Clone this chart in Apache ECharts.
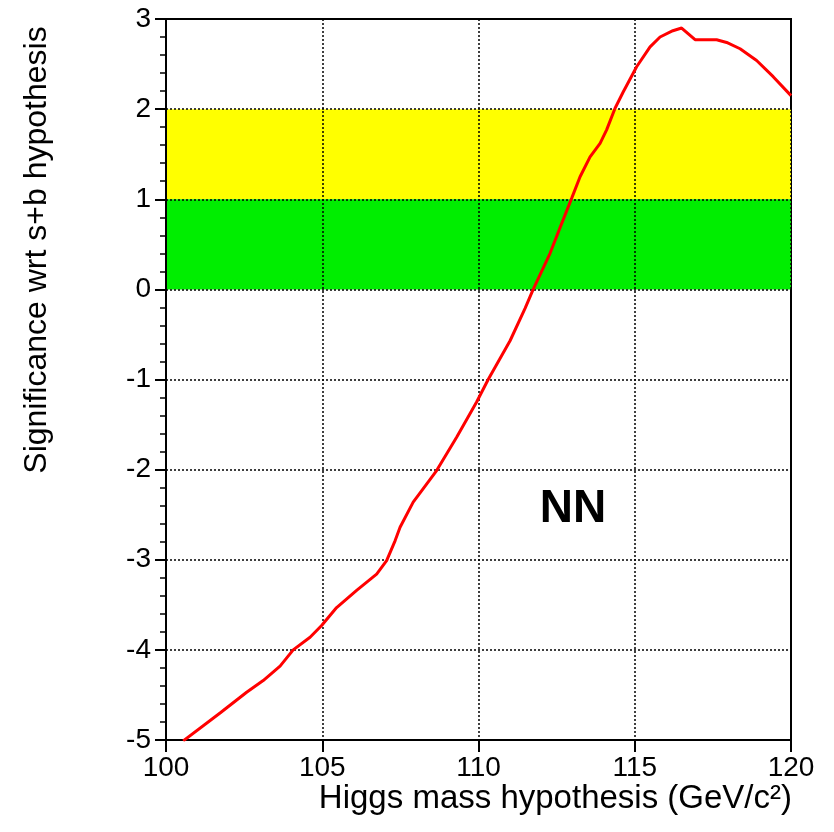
<!DOCTYPE html>
<html>
<head>
<meta charset="utf-8">
<script src="https://cdn.jsdelivr.net/npm/echarts@6/dist/echarts.min.js"></script>
<style>html,body{margin:0;padding:0;background:#fff}#c{width:834px;height:832px}</style>
</head>
<body>
<div id="c"></div>
<script>
const massValues = [100.55, 101.73, 102.58, 103.11, 103.65, 104.07, 104.61, 104.98, 105.46, 106.1, 106.74, 107.06, 107.33, 107.49, 107.91, 108.66, 109.30, 109.94, 110.31, 111.01, 111.49, 111.75, 112.29, 112.66, 112.98, 113.25, 113.57, 113.89, 114.1, 114.37, 114.63, 115.06, 115.49, 115.81, 116.22, 116.5, 116.93, 117.62, 117.94, 118.37, 118.9, 119.43, 120.0];
const significanceValues = [-5.01, -4.70, -4.47, -4.34, -4.18, -4.00, -3.86, -3.73, -3.53, -3.34, -3.16, -3.01, -2.79, -2.64, -2.36, -2.01, -1.64, -1.25, -1.0, -0.57, -0.21, 0.0, 0.40, 0.73, 1.01, 1.25, 1.47, 1.62, 1.77, 2.01, 2.19, 2.47, 2.69, 2.80, 2.87, 2.90, 2.77, 2.77, 2.74, 2.67, 2.54, 2.36, 2.15];
const bandGreen = [0, 1];
const bandYellow = [1, 2];
const xTitle = 'Higgs mass hypothesis (GeV/c²)';
const yTitle = 'Significance wrt s+b hypothesis';
const annotation = 'NN';

const FONT = 'Liberation Sans, Arial, Helvetica, sans-serif';
const chart = echarts.init(document.getElementById('c'), null, {renderer: 'canvas'});
const lineData = massValues.map((m, i) => [m, significanceValues[i]]);

chart.setOption({
  animation: false,
  backgroundColor: '#fff',
  grid: {left: 166, top: 19, right: 43, bottom: 92, show: true, borderColor: '#000', borderWidth: 2, backgroundColor: 'transparent'},
  xAxis: {
    type: 'value', min: 100, max: 120, interval: 5, z: 2,
    axisLine: {show: true, onZero: false, lineStyle: {color: '#000', width: 2}},
    axisTick: {show: true, length: 12, lineStyle: {color: '#000', width: 2}},
    axisLabel: {color: '#000', fontSize: 28, fontFamily: FONT, margin: 14},
    splitLine: {show: true, lineStyle: {color: '#000', width: 1.5, type: [2, 2]}}
  },
  yAxis: {
    type: 'value', min: -5, max: 3, interval: 1, z: 2,
    axisLine: {show: true, onZero: false, lineStyle: {color: '#000', width: 2}},
    axisTick: {show: true, length: 11, lineStyle: {color: '#000', width: 2}},
    minorTick: {show: true, splitNumber: 5, length: 6, lineStyle: {color: '#000', width: 1.5}},
    axisLabel: {color: '#000', fontSize: 28, fontFamily: FONT, margin: 15},
    splitLine: {show: true, lineStyle: {color: '#000', width: 1.5, type: [2, 2]}}
  },
  series: [
    {
      type: 'line', data: [], z: 1, silent: true,
      markArea: {
        silent: true,
        data: [
          [{yAxis: bandYellow[0], itemStyle: {color: '#ffff00', opacity: 1}}, {yAxis: bandYellow[1]}],
          [{yAxis: bandGreen[0], itemStyle: {color: '#00ee00', opacity: 1}}, {yAxis: bandGreen[1]}]
        ]
      }
    },
    {
      type: 'line', data: lineData, z: 3, showSymbol: false, symbol: 'none', smooth: false,
      lineStyle: {color: '#ff0000', width: 3}, clip: true
    }
  ],
  graphic: [
    {type: 'text', x: 37, y: 250, rotation: Math.PI / 2, z: 10,
      style: {text: yTitle, fontSize: 32, fontFamily: FONT, fill: '#000', align: 'center', verticalAlign: 'middle'}},
    {type: 'text', x: 792, y: 799, z: 10,
      style: {text: xTitle, fontSize: 33, fontFamily: FONT, fill: '#000', align: 'right', verticalAlign: 'middle'}},
    {type: 'text', x: 573, y: 509, z: 10,
      style: {text: annotation, fontSize: 46, fontWeight: 'bold', fontFamily: FONT, fill: '#000', align: 'center', verticalAlign: 'middle'}}
  ]
});
</script>
</body>
</html>
